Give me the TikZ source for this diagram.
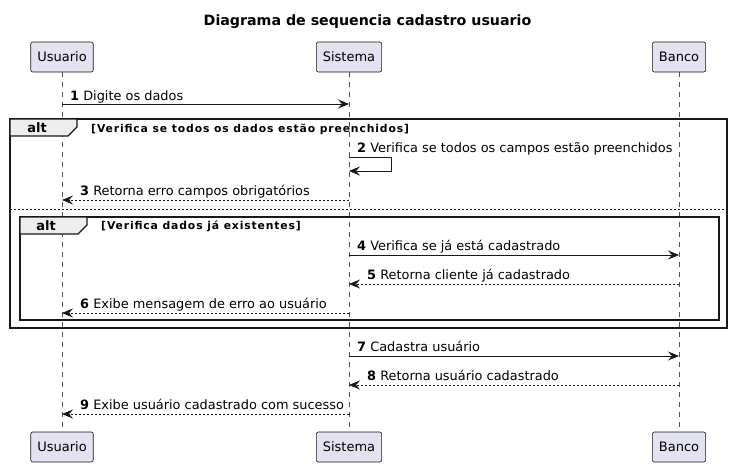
\documentclass[tikz,border=0pt]{standalone}
\usepackage{fontspec}
\setmainfont{DejaVu Sans}
\usetikzlibrary{arrows.meta}
\definecolor{partfill}{HTML}{E2E2F0}
\definecolor{ink}{HTML}{181818}
\definecolor{tabfill}{HTML}{EEEEEE}
\begin{document}
\begin{tikzpicture}[x=1pt,y=-1pt,
  part/.style={draw=ink,fill=partfill,rounded corners=2pt,minimum height=30pt,inner xsep=6.5pt,font=\fontsize{13}{15}\selectfont,line width=0.6pt},
  life/.style={draw=ink!75,dash pattern=on 5pt off 5pt,line width=0.5pt},
  msg/.style={draw=ink,line width=0.8pt,-{Stealth[length=11pt,width=9pt,inset=4pt]}},
  ret/.style={msg,dash pattern=on 2pt off 2pt},
  lbl/.style={anchor=base west,inner sep=0pt,font=\fontsize{12.9}{15}\selectfont},
  frame/.style={draw=ink,line width=1.5pt},
  tab/.style={draw=ink,fill=tabfill,line width=1.2pt},
  tablbl/.style={font=\bfseries\fontsize{13}{15}\selectfont,inner sep=0pt},
  guard/.style={anchor=base west,inner sep=0pt,font=\bfseries\fontsize{10.8}{12}\selectfont\addfontfeature{LetterSpace=8}}
]
\useasboundingbox (0,0) rectangle (734,467);
\fill[white] (0,0) rectangle (734,467);

\node[font=\bfseries\fontsize{14.2}{16}\selectfont] (title) at (367.5,22) {Diagrama de sequencia cadastro usuario};

% lifelines
\coordinate (u1) at (62,72); \coordinate (u2) at (62,432);
\coordinate (s1) at (349,72); \coordinate (s2) at (349,432);
\coordinate (b1) at (679,72); \coordinate (b2) at (679,432);
\draw[life] (u1) -- (u2);
\draw[life] (s1) -- (s2);
\draw[life] (b1) -- (b2);

\node[part] (U) at (62,57) {Usuario};
\node[part] (S) at (349,57) {Sistema};
\node[part] (B) at (679,57) {Banco};
\node[part] (Ub) at (62,447) {Usuario};
\node[part] (Sb) at (349,447) {Sistema};
\node[part] (Bb) at (679,447) {Banco};

% outer alt frame
\draw[frame] (10,119) rectangle (727,328);
\draw[tab] (10,119) -- (77,119) -- (77,127) -- (68,136) -- (10,136) -- cycle;
\node[tablbl] (alt1) at (37,128) {alt};
\node[guard] (g1) at (91,132) {[Verifica se todos os dados estão preenchidos]};
\coordinate (sepL) at (10,209); \coordinate (sepR) at (727,209);
\draw[ink,line width=0.8pt,dash pattern=on 2pt off 2pt] (sepL) -- (sepR);

% inner alt frame
\draw[frame] (20,217) rectangle (719,320);
\draw[tab] (20,217) -- (87,217) -- (87,225) -- (78,234) -- (20,234) -- cycle;
\node[tablbl] (alt2) at (46,225.5) {alt};
\node[guard] (g2) at (101,229.5) {[Verifica dados já existentes]};

% messages
\coordinate (m1a) at (62,104); \coordinate (m1b) at (349,104);
\draw[msg] (m1a) -- (m1b);
\node[lbl] (l1) at (70,100) {\textbf{1} Digite os dados};

\coordinate (m2a) at (349,157); \coordinate (m2b) at (391,157);
\coordinate (m2c) at (391,171); \coordinate (m2d) at (349,171);
\draw[msg] (m2a) -- (m2b) -- (m2c) -- (m2d);
\node[lbl] (l2) at (357,152) {\textbf{2} Verifica se todos os campos estão preenchidos};

\coordinate (m3a) at (349,200); \coordinate (m3b) at (62,200);
\draw[ret] (m3a) -- (m3b);
\node[lbl] (l3) at (80,195) {\textbf{3} Retorna erro campos obrigatórios};

\coordinate (m4a) at (349,255); \coordinate (m4b) at (679,255);
\draw[msg] (m4a) -- (m4b);
\node[lbl] (l4) at (357,250) {\textbf{4} Verifica se já está cadastrado};

\coordinate (m5a) at (679,284); \coordinate (m5b) at (349,284);
\draw[ret] (m5a) -- (m5b);
\node[lbl] (l5) at (367,279) {\textbf{5} Retorna cliente já cadastrado};

\coordinate (m6a) at (349,313); \coordinate (m6b) at (62,313);
\draw[ret] (m6a) -- (m6b);
\node[lbl] (l6) at (80,308) {\textbf{6} Exibe mensagem de erro ao usuário};

\coordinate (m7a) at (349,356); \coordinate (m7b) at (679,356);
\draw[msg] (m7a) -- (m7b);
\node[lbl] (l7) at (357,351) {\textbf{7} Cadastra usuário};

\coordinate (m8a) at (679,385); \coordinate (m8b) at (349,385);
\draw[ret] (m8a) -- (m8b);
\node[lbl] (l8) at (367,380) {\textbf{8} Retorna usuário cadastrado};

\coordinate (m9a) at (349,414); \coordinate (m9b) at (62,414);
\draw[ret] (m9a) -- (m9b);
\node[lbl] (l9) at (80,409) {\textbf{9} Exibe usuário cadastrado com sucesso};
\end{tikzpicture}
\end{document}
